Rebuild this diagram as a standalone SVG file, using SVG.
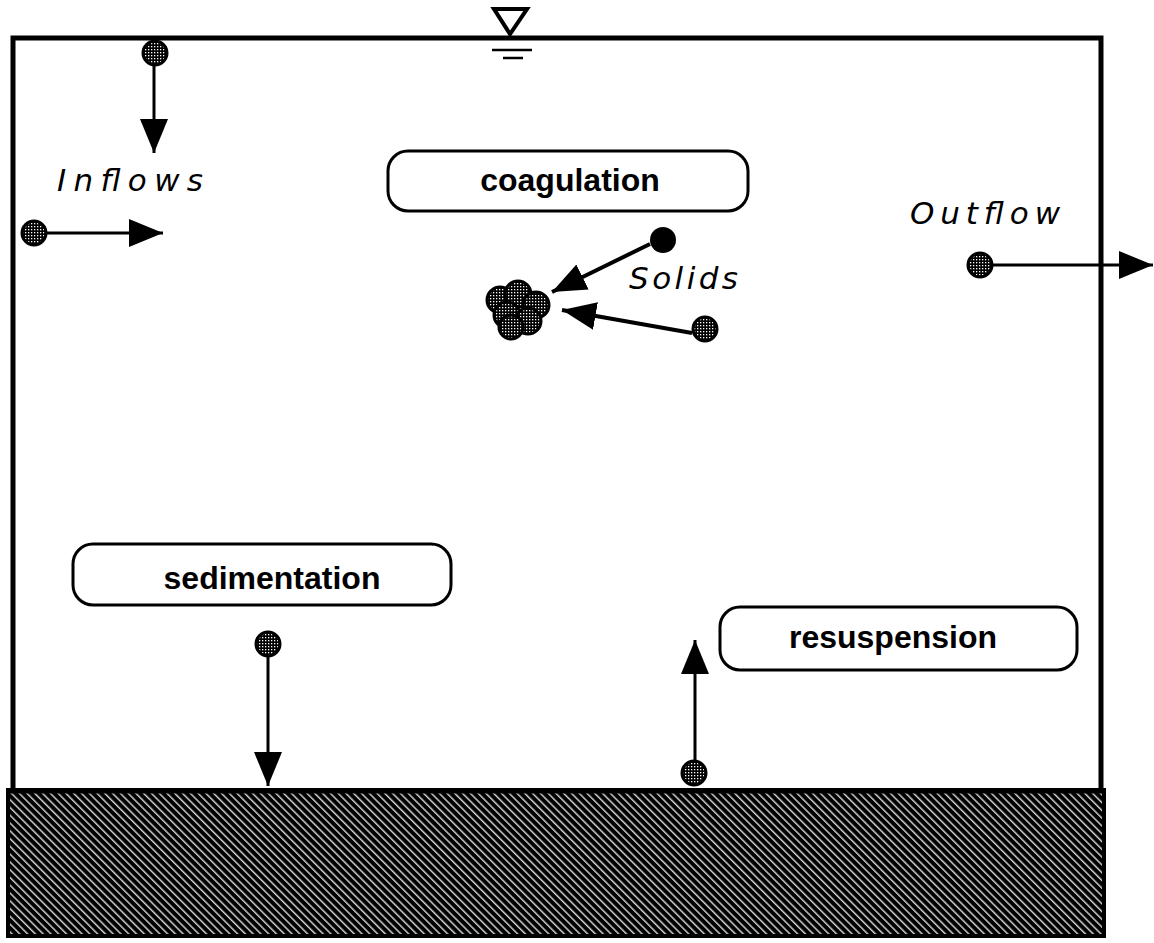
<svg xmlns="http://www.w3.org/2000/svg" width="1154" height="943" viewBox="0 0 1154 943">
<defs>
<style>
.wall{stroke:#000;stroke-width:5;fill:none}
.box{fill:#fff;stroke:#000;stroke-width:3}
.lbl{font-family:"Liberation Sans",Arial,sans-serif;font-weight:bold;font-size:32px;text-anchor:middle;fill:#000}
.ital{font-family:"DejaVu Sans","Liberation Sans",sans-serif;font-style:italic;font-size:31px;fill:#000}
.pt{fill:url(#dots);stroke:#000;stroke-width:3}
.ln{stroke:#000;stroke-width:3;fill:none;marker-end:url(#ah)}
.lnb{stroke:#000;stroke-width:4;fill:none;marker-end:url(#ah)}
</style>
<pattern id="dots" width="3" height="3" patternUnits="userSpaceOnUse">
<rect width="3" height="3" fill="#000"/>
<rect x="1" y="1" width="1.3" height="1.3" fill="#fff"/>
</pattern>
<pattern id="hatch" width="5.5" height="5.5" patternUnits="userSpaceOnUse" patternTransform="rotate(-45)">
<rect width="5.5" height="5.5" fill="#000"/>
<rect x="2" y="0" width="1.2" height="5.5" fill="#fff"/>
</pattern>
<marker id="ah" markerUnits="userSpaceOnUse" markerWidth="36" markerHeight="30" refX="34" refY="14" orient="auto">
<path d="M0,0 L34,14 L0,28 z" fill="#000"/>
</marker>
</defs>
<rect width="1154" height="943" fill="#fff"/>

<g id="basin">
<path class="wall" d="M13,792 V38 H1101 V792"/>
<rect x="8" y="790" width="1096" height="146" fill="url(#hatch)" stroke="#000" stroke-width="4"/>
<line x1="8" y1="791" x2="1104" y2="791" stroke="#000" stroke-width="5"/>
</g>

<g id="water-level">
<polygon points="494,9 527,9 510,34" fill="none" stroke="#000" stroke-width="4" stroke-linejoin="miter"/>
<line x1="492" y1="50" x2="532" y2="50" stroke="#000" stroke-width="2.5"/>
<line x1="503" y1="58" x2="523" y2="58" stroke="#000" stroke-width="2.5"/>
</g>

<g id="connectors">
<line class="ln" x1="154" y1="60" x2="154" y2="153"/>
<line class="ln" x1="40" y1="233" x2="163" y2="233"/>
<line class="ln" x1="988" y1="265" x2="1153" y2="265"/>
<line class="lnb" x1="650" y1="244" x2="552" y2="292"/>
<line class="lnb" x1="692" y1="333" x2="562" y2="310"/>
<line class="ln" x1="268" y1="655" x2="268" y2="786"/>
<line class="ln" x1="695" y1="765" x2="695" y2="640"/>
</g>

<g id="inflows">
<circle class="pt" cx="155" cy="53" r="12"/>
<circle class="pt" cx="34" cy="233" r="12"/>
<text class="ital" x="57" y="191" textLength="146" lengthAdjust="spacing">Inflows</text>
</g>

<g id="coagulation">
<rect class="box" x="388" y="151" width="360" height="60" rx="20"/>
<text class="lbl" x="570" y="191">coagulation</text>
</g>

<g id="solids">
<circle cx="663" cy="240" r="13" fill="#000"/>
<circle class="pt" cx="705" cy="329" r="12"/>
<g id="cluster">
<circle class="pt" cx="500" cy="300" r="13"/>
<circle class="pt" cx="518" cy="294" r="13"/>
<circle class="pt" cx="536" cy="305" r="13"/>
<circle class="pt" cx="507" cy="315" r="13"/>
<circle class="pt" cx="528" cy="321" r="13"/>
<circle class="pt" cx="511" cy="327" r="12"/>
</g>
<text class="ital" x="629" y="289" textLength="109" lengthAdjust="spacing">Solids</text>
</g>

<g id="outflow">
<circle class="pt" cx="980" cy="265" r="12"/>
<text class="ital" x="910" y="224" textLength="150" lengthAdjust="spacing">Outflow</text>
</g>

<g id="sedimentation">
<rect class="box" x="73" y="544" width="378" height="61" rx="20"/>
<text class="lbl" x="272" y="589">sedimentation</text>
<circle class="pt" cx="268" cy="644" r="12"/>
</g>

<g id="resuspension">
<rect class="box" x="720" y="607" width="357" height="63" rx="20"/>
<text class="lbl" x="893" y="648">resuspension</text>
<circle class="pt" cx="694" cy="773" r="12"/>
</g>
</svg>
